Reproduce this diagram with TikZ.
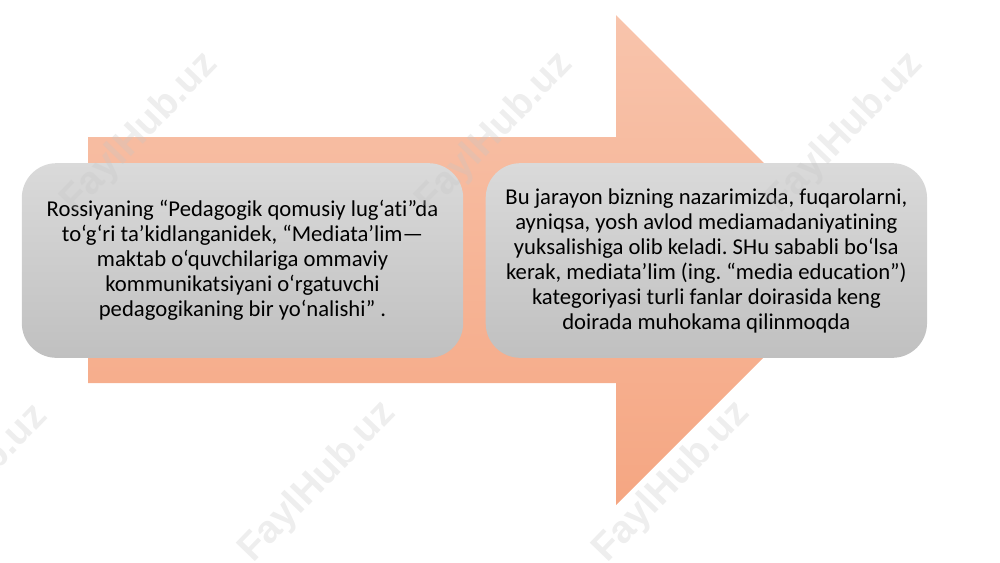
\documentclass[tikz,border=0pt]{standalone}
\usepackage{fontspec}
\setmainfont[Ligatures=NoCommon]{Carlito}
\newfontfamily\wmfont{Liberation Sans}
\usetikzlibrary{positioning}
\definecolor{peachtop}{RGB}{248,196,172}
\definecolor{peachbot}{RGB}{245,166,130}
\definecolor{boxtop}{RGB}{218,218,218}
\definecolor{boxbot}{RGB}{192,192,192}
\frenchspacing
\tikzset{
	textbox/.style={shade, top color=boxtop, bottom color=boxbot, rounded corners=26pt,
		minimum width=331pt, minimum height=146pt, inner sep=0pt, align=center,
		font=\fontsize{17}{18.75}\selectfont},
	wmark/.style={rotate=46, text=gray!45, opacity=0.3, font=\wmfont\bfseries\fontsize{29}{29}\selectfont}
}
\begin{document}
\begin{tikzpicture}[x=0.75pt, y=-0.75pt, line join=round]
	\useasboundingbox (0,0) rectangle (1000,562);
	% big arrow
	\shade[top color=peachtop, bottom color=peachbot]
	(88,137)--(616,137)--(616,15)--(861,260)--(616,505)--(616,383)--(88,383)--cycle;
	\node[textbox] (rossiya) at (242.5,260.5)
	{Rossiyaning “Pedagogik qomusiy lug‘ati”da\\
		to‘g‘ri ta’kidlanganidek, “Mediata’lim—\\
		maktab o‘quvchilariga ommaviy\\
		kommunikatsiyani o‘rgatuvchi\\
		pedagogikaning bir yo‘nalishi” .};
	\node[textbox, right=16.5pt of rossiya] (jarayon)
	{Bu jarayon bizning nazarimizda, fuqarolarni,\\
		ayniqsa, yosh avlod mediamadaniyatining\\
		yuksalishiga olib keladi. SHu sababli bo‘lsa\\
		kerak, mediata’lim (ing. “media education”)\\
		kategoriyasi turli fanlar doirasida keng\\
		doirada muhokama qilinmoqda};
	% watermarks
	\foreach \wx/\wy [count=\i] in {140/133, 495/133, 845/133, -30/485, 318/482, 672/482}
	\node[wmark] (wm\i) at (\wx,\wy) {FaylHub.uz};
\end{tikzpicture}
\end{document}
